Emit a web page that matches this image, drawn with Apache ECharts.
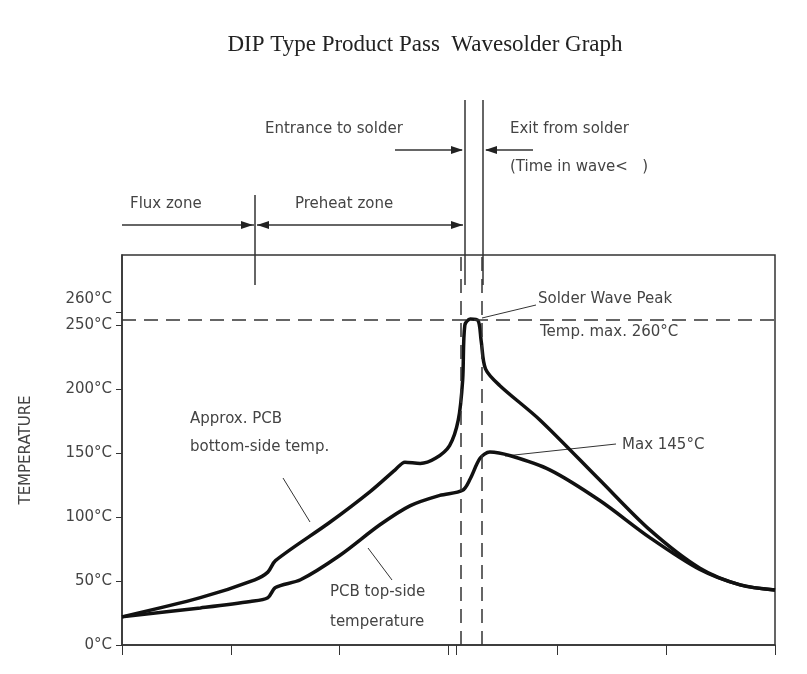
<!DOCTYPE html>
<html><head><meta charset="utf-8">
<script src="https://cdn.jsdelivr.net/npm/echarts@6/dist/echarts.min.js"></script>
<style>html,body{margin:0;background:#fff}#c{width:807px;height:674px}</style>
</head><body><div id="c"></div>
<script>
const yTicks = [0, 50, 100, 150, 200, 250, 260];
const xTicks = [0, 1, 2, 3, 4, 5, 6];
const bottomSide = [[0,22],[0.72,37],[1.22,51],[1.34,57],[1.41,66],[1.91,96],[2.28,120],[2.51,137],[2.6,143],[2.74,142],[2.88,146],[3.01,156],[3.09,176],[3.13,207],[3.15,250],[3.2,255],[3.27,254],[3.3,238],[3.34,216],[3.47,203],[3.84,176],[4.39,129],[4.85,90],[5.31,60],[5.68,47],[6,43]];
const topSide = [[0,22],[0.72,29],[1.18,34],[1.34,37],[1.41,45],[1.64,51],[2.0,70],[2.37,94],[2.65,109],[2.92,117],[3.13,121],[3.2,130],[3.29,146],[3.38,151],[3.57,148],[3.93,137],[4.39,113],[4.85,84],[5.31,59],[5.68,47],[6,43]];
const waveEntry = 3.11, waveExit = 3.31, peakLine = 254;
const txt = '#444', F = 'DejaVu Sans';
function T(x,y,s,o){return Object.assign({type:'text',x:x,y:y,style:{text:s,fill:txt,font:'15px '+F}},o||{});}
function L(x1,y1,x2,y2,w){return {type:'line',shape:{x1,y1,x2,y2},style:{stroke:'#333',lineWidth:w||1.5}};}
function A(x,y,dir){return {type:'polygon',shape:{points:dir>0?[[x,y],[x-12,y-4],[x-12,y+4]]:[[x,y],[x+12,y-4],[x+12,y+4]]},style:{fill:'#222'}};}
const chart = echarts.init(document.getElementById('c'));
chart.setOption({
  animation:false,
  title:{text:'DIP Type Product Pass  Wavesolder Graph',left:420,top:28,textAlign:'center',textStyle:{fontFamily:'Liberation Serif',fontSize:23,fontWeight:'normal',color:'#222'}},
  grid:{left:122,right:32,top:255,bottom:29,show:true,borderColor:'#333',borderWidth:1.5},
  xAxis:{type:'value',min:0,max:6,axisLine:{lineStyle:{color:'#333',width:1.5}},axisTick:{customValues:xTicks.concat([waveEntry-0.04]),length:10,lineStyle:{color:'#333'}},axisLabel:{show:false},splitLine:{show:false}},
  yAxis:{type:'value',min:0,max:305,name:'TEMPERATURE',nameLocation:'middle',nameGap:88,nameTextStyle:{fontFamily:F,fontSize:15,color:txt},
    axisLine:{show:true,lineStyle:{color:'#333',width:1.5}},axisTick:{show:true,customValues:yTicks,length:6,lineStyle:{color:'#333'}},
    axisLabel:{customValues:yTicks.slice(0,6),formatter:v=>v+'°C',fontFamily:F,fontSize:15,color:txt,margin:10},splitLine:{show:false}},
  series:[
    {type:'line',data:bottomSide,smooth:0.3,symbol:'none',lineStyle:{color:'#111',width:3.5},
     markLine:{symbol:'none',silent:true,label:{show:false},lineStyle:{color:'#333',type:[14,8],width:1.5},
       data:[{yAxis:peakLine},{xAxis:waveEntry},{xAxis:waveExit}]}},
    {type:'line',data:topSide,smooth:0.3,symbol:'none',lineStyle:{color:'#111',width:3.5}}
  ],
  graphic:[
    T(112,292,'260°C',{style:{text:'260°C',fill:txt,font:'15px '+F,align:'right'}}),
    L(465,100,465,285),L(483,100,483,285),L(255,195,255,285),
    T(265,122,'Entrance to solder'),L(395,150,462,150),A(463,150,1),
    T(510,122,'Exit from solder'),L(486,150,533,150),A(485,150,-1),
    T(510,160,'(Time in wave<   )'),
    T(130,197,'Flux zone'),L(122,225,254,225),A(253,225,1),
    T(295,197,'Preheat zone'),L(257,225,463,225),A(257,225,-1),A(463,225,1),
    T(538,292,'Solder Wave Peak'),T(540,325,'Temp. max. 260°C'),L(482,318,536,305,1),
    T(622,438,'Max 145°C'),L(505,456,616,444,1),
    T(190,412,'Approx. PCB'),T(190,440,'bottom-side temp.'),L(283,478,310,522,1),
    T(330,585,'PCB top-side'),T(330,615,'temperature'),L(368,548,392,580,1)
  ]
});
</script></body></html>
